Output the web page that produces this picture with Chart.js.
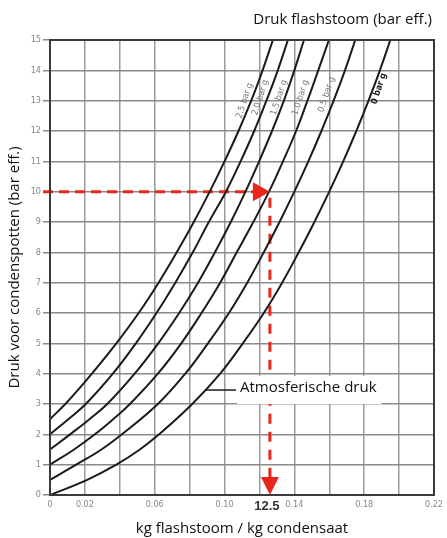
<!DOCTYPE html>
<html>
<head>
<meta charset="utf-8">
<script src="https://cdn.jsdelivr.net/npm/chart.js@4.4.1/dist/chart.umd.min.js"></script>
<style>
  html, body { margin: 0; padding: 0; background: #fff; }
  #wrap { width: 447px; height: 538px; }
</style>
</head>
<body>
<div id="wrap"><canvas id="flashChart"></canvas></div>
<script>
// ---------------------------------- data ----------------------------------
const xTickValues = [0, 0.02, 0.04, 0.06, 0.08, 0.10, 0.12, 0.14, 0.16, 0.18, 0.20, 0.22];
const xTickLabels = ["0", "0.02", "", "0.06", "", "0.10", "", "0.14", "", "0.18", "", "0.22"];
const yTickValues = [0, 1, 2, 3, 4, 5, 6, 7, 8, 9, 10, 11, 12, 13, 14, 15];

const curveNames = ["0 bar g", "0.5 bar g", "1.0 bar g", "1.5 bar g", "2.0 bar g", "2.5 bar g"];

// 0 bar g (atmospheric)
const press0 = [0, 0.5, 1, 1.5, 2, 3, 4, 5, 6, 7, 8, 9, 10, 11, 12, 13, 14, 15];
const flash0 = [0, 0.0213, 0.038, 0.0515, 0.0625, 0.0815, 0.0975, 0.1105, 0.1225, 0.133, 0.1425, 0.1515, 0.160, 0.168, 0.1755, 0.1825, 0.189, 0.195];
// 0.5 bar g
const press05 = [0.5, 1, 1.5, 2, 3, 4, 5, 6, 7, 8, 9, 10, 11, 12, 13, 14, 15];
const flash05 = [0, 0.015, 0.0295, 0.0412, 0.0618, 0.0775, 0.0905, 0.1025, 0.113, 0.1225, 0.1315, 0.140, 0.148, 0.1555, 0.1625, 0.169, 0.1749];
// 1.0 bar g
const press10 = [1, 1.5, 2, 2.5, 3, 4, 5, 6, 7, 8, 9, 10, 11, 12, 13, 14, 15];
const flash10 = [0, 0.0138, 0.0257, 0.0362, 0.0458, 0.0618, 0.0752, 0.0868, 0.0975, 0.107, 0.1165, 0.1255, 0.1335, 0.141, 0.1475, 0.1537, 0.1598];
// 1.5 bar g
const press15 = [1.5, 2, 2.5, 3, 4, 5, 6, 7, 8, 9, 10, 11, 12, 13, 14, 15];
const flash15 = [0, 0.0115, 0.0226, 0.0328, 0.0485, 0.062, 0.074, 0.0848, 0.0945, 0.1036, 0.112, 0.1198, 0.1272, 0.134, 0.140, 0.1455];
// 2.0 bar g
const press20 = [2, 2.5, 3, 4, 5, 6, 7, 8, 9, 10, 11, 12, 13, 14, 15];
const flash20 = [0, 0.0105, 0.0205, 0.036, 0.0492, 0.061, 0.0718, 0.0818, 0.091, 0.1008, 0.1092, 0.117, 0.124, 0.1305, 0.1363];
// 2.5 bar g
const press25 = [2.5, 3, 3.5, 4, 5, 6, 7, 8, 9, 10, 11, 12, 13, 14, 15];
const flash25 = [0, 0.0088, 0.0166, 0.024, 0.038, 0.0508, 0.0622, 0.0726, 0.0824, 0.0915, 0.100, 0.108, 0.1153, 0.1218, 0.1277];

// where the rotated curve labels sit (data coords)
const labelX = [0.1885, 0.1585, 0.1435, 0.1312, 0.1205, 0.1115];
const labelY = [13.4, 13.2, 13.1, 13.1, 13.1, 13.0];

// example reading: 10 bar eff. condensate, flash to 1.0 bar g -> 12.5 %
const exampleY = 10;
const exampleX = 0.126;
const exampleLabel = "12.5";
const atmosLeaderY = 3.46;

// ---------------------------------- helpers ----------------------------------
function toPoints(xs, ys) {
    return xs.map((x, i) => ({ x: x, y: ys[i] }));
}
function curve(label, xs, ys) {
    return {
        label: label,
        data: toPoints(xs, ys),
        borderColor: "#1b1b1b",
        borderWidth: 2,
        pointRadius: 0,
        tension: 0.4,
        fill: false,
    };
}
const red = "#e8261c";

// ---------------------------------- overlay plugin ----------------------------------
const overlay = {
    id: "overlay",
    afterDatasetsDraw(chart) {
        const ctx = chart.ctx;
        const xs = chart.scales.x, ys = chart.scales.y;
        const a = chart.chartArea;

        ctx.save();
        // frame
        ctx.strokeStyle = "#3a3a3a";
        ctx.lineWidth = 2;
        ctx.strokeRect(a.left, a.top, a.right - a.left, a.bottom - a.top);

        // arrow heads
        const tx = xs.getPixelForValue(exampleX);
        const ty = ys.getPixelForValue(exampleY);
        ctx.fillStyle = red;
        ctx.beginPath();
        ctx.moveTo(tx, ty);
        ctx.lineTo(tx - 17, ty - 9.5);
        ctx.lineTo(tx - 17, ty + 9.5);
        ctx.closePath();
        ctx.fill();
        const by = ys.getPixelForValue(0);
        ctx.beginPath();
        ctx.moveTo(tx, by);
        ctx.lineTo(tx - 9, by - 18);
        ctx.lineTo(tx + 9, by - 18);
        ctx.closePath();
        ctx.fill();

        // curve labels
        curveNames.forEach((name, i) => {
            const px = xs.getPixelForValue(labelX[i]);
            const py = ys.getPixelForValue(labelY[i]);
            ctx.save();
            ctx.translate(px, py);
            ctx.rotate(-72 * Math.PI / 180);
            ctx.textAlign = "center";
            ctx.textBaseline = "middle";
            if (i === 0) {
                ctx.font = "bold 9px 'Liberation Sans Narrow', 'DejaVu Sans Condensed', sans-serif";
                ctx.fillStyle = "#222";
            } else {
                ctx.font = "9px 'Liberation Sans Narrow', 'DejaVu Sans Condensed', sans-serif";
                ctx.fillStyle = "#7a7a7a";
            }
            ctx.fillText(name, 0, 0);
            ctx.restore();
        });

        // "Atmosferische druk" annotation
        const ly = ys.getPixelForValue(atmosLeaderY);
        const i3 = press0.indexOf(3);
        const lx = xs.getPixelForValue(flash0[i3] + (flash0[i3 + 1] - flash0[i3]) * (atmosLeaderY - 3));
        ctx.font = "15px 'Open Sans', sans-serif";
        const txt = "Atmosferische druk";
        const tw = ctx.measureText(txt).width;
        ctx.fillStyle = "#fff";
        ctx.fillRect(237, ly - 14, tw + 8, 28);
        ctx.strokeStyle = "#1b1b1b";
        ctx.lineWidth = 1.5;
        ctx.beginPath();
        ctx.moveTo(lx, ly);
        ctx.lineTo(236, ly);
        ctx.stroke();
        ctx.fillStyle = "#111";
        ctx.textAlign = "left";
        ctx.textBaseline = "middle";
        ctx.fillText(txt, 240, ly - 2);

        // bold 12.5 under the x axis
        ctx.font = "bold 13px 'Liberation Sans', Arial, sans-serif";
        ctx.fillStyle = "#333";
        ctx.textAlign = "center";
        ctx.fillText(exampleLabel, tx - 3, a.bottom + 11);

        // top title
        ctx.font = "15px 'Open Sans', sans-serif";
        ctx.fillStyle = "#111";
        ctx.textAlign = "right";
        ctx.fillText("Druk flashstoom (bar eff.)", 432, 20);
        ctx.restore();
    },
};

// ---------------------------------- config ----------------------------------
const tickFont = { family: "'Liberation Sans Narrow', 'DejaVu Sans Condensed', sans-serif", size: 9 };

const config = {
    type: "line",
    data: {
        datasets: [
            curve(curveNames[0], flash0, press0),
            curve(curveNames[1], flash05, press05),
            curve(curveNames[2], flash10, press10),
            curve(curveNames[3], flash15, press15),
            curve(curveNames[4], flash20, press20),
            curve(curveNames[5], flash25, press25),
            {
                label: "example horizontal",
                data: [{ x: -0.004, y: exampleY }, { x: exampleX - 0.009, y: exampleY }],
                borderColor: red,
                borderWidth: 3,
                borderDash: [10, 6],
                pointRadius: 0,
                clip: false,
            },
            {
                label: "example vertical",
                data: [{ x: exampleX, y: exampleY - 0.2 }, { x: exampleX, y: 0.55 }],
                borderColor: red,
                borderWidth: 3,
                borderDash: [10, 8],
                pointRadius: 0,
            },
        ],
    },
    options: {
        responsive: true,
        maintainAspectRatio: false,
        animation: false,
        layout: { padding: { left: 0, top: 40, right: 7, bottom: 0 } },
        scales: {
            x: {
                type: "linear",
                min: 0,
                max: 0.22,
                afterBuildTicks: (axis) => { axis.ticks = xTickValues.map(v => ({ value: v })); },
                afterFit: (scale) => { scale.height = 43; },
                ticks: {
                    font: tickFont,
                    color: "#888",
                    padding: 4,
                    maxRotation: 0,
                    autoSkip: false,
                    callback: (value, index) => xTickLabels[index],
                },
                grid: { color: "#9a9a9a", lineWidth: 1.5, drawTicks: false },
                border: { display: false },
                title: {
                    display: true,
                    text: "kg flashstoom / kg condensaat",
                    font: { family: "'Open Sans', sans-serif", size: 15 },
                    color: "#111",
                    padding: 0,
                },
            },
            y: {
                type: "linear",
                min: 0,
                max: 15,
                afterBuildTicks: (axis) => { axis.ticks = yTickValues.map(v => ({ value: v })); },
                afterFit: (scale) => { scale.width = 50; },
                ticks: {
                    font: tickFont,
                    color: "#888",
                    padding: 2,
                    autoSkip: false,
                },
                grid: { color: "#8a8a8a", lineWidth: 1.5, tickLength: 7 },
                border: { display: false },
                title: {
                    display: true,
                    text: "Druk voor condenspotten (bar eff.)",
                    font: { family: "'Open Sans', sans-serif", size: 15 },
                    color: "#111",
                    padding: { top: 6, bottom: 0 },
                },
            },
        },
        plugins: {
            legend: { display: false },
            tooltip: { enabled: false },
        },
    },
    plugins: [overlay],
};

const flashChart = new Chart(document.getElementById("flashChart").getContext("2d"), config);
</script>
</body>
</html>
